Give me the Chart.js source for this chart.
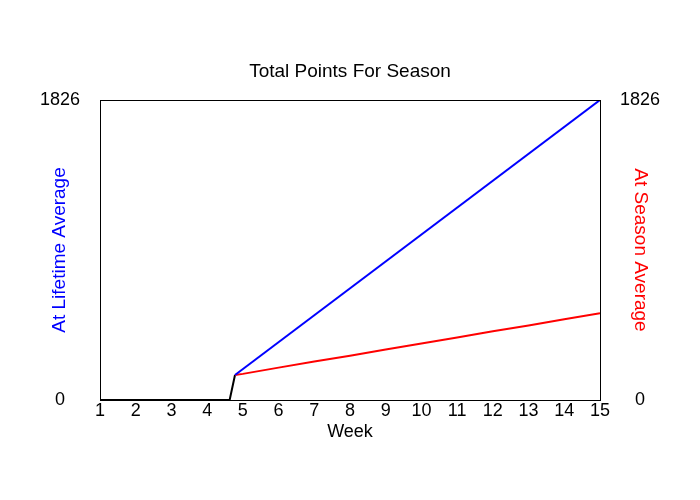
<!DOCTYPE html>
<html>

<head>
    <meta charset="utf-8">
    <title>Total Points For Season</title>
    <style>
        body {
            margin: 0;
            background-color: white;
        }
    </style>
</head>

<body>
    <canvas id="seasonChart" width="700" height="500"></canvas>

    <script src="https://cdn.jsdelivr.net/npm/chart.js"></script>

    <script>
        // values
        const weekTicks = [1, 2, 3, 4, 5, 6, 7, 8, 9, 10, 11, 12, 13, 14, 15];
        const yTicks = [0, 1826];

        const startWeeks = [1, 4.63, 4.78];
        const startPoints = [0, 0, 152];

        const lifetimeWeeks = [4.78, 15];
        const lifetimePoints = [152, 1826];

        const seasonWeeks = [4.78, 5, 6, 7, 8, 9, 10, 11, 12, 13, 14, 15];
        const seasonPoints = [152, 159, 197, 234, 270, 307, 344, 381, 418, 454, 491, 528];

        function toXY(xs, ys) {
            return xs.map((x, i) => ({ x: x, y: ys[i] }));
        }

        // frame round the plot and the two side titles
        const framePlugin = {
            id: 'frame',
            afterDraw(chart) {
                const { ctx, chartArea } = chart;
                ctx.save();
                ctx.strokeStyle = '#000';
                ctx.lineWidth = 1;
                ctx.strokeRect(chartArea.left + 0.5, chartArea.top + 0.5,
                    chartArea.right - chartArea.left, chartArea.bottom - chartArea.top);

                const midY = (chartArea.top + chartArea.bottom) / 2;
                ctx.font = '19px "Liberation Sans", Arial, sans-serif';
                ctx.textAlign = 'center';
                ctx.textBaseline = 'middle';

                ctx.fillStyle = '#0000ff';
                ctx.translate(60, midY);
                ctx.rotate(-Math.PI / 2);
                ctx.fillText('At Lifetime Average', 0, 0);
                ctx.restore();

                ctx.save();
                ctx.font = '19px "Liberation Sans", Arial, sans-serif';
                ctx.textAlign = 'center';
                ctx.textBaseline = 'middle';
                ctx.fillStyle = '#ff0000';
                ctx.translate(640, midY);
                ctx.rotate(Math.PI / 2);
                ctx.fillText('At Season Average', 0, 0);
                ctx.restore();
            }
        };

        const tickFont = { family: '"Liberation Sans", Arial, sans-serif', size: 18 };

        new Chart(document.getElementById('seasonChart'), {
            type: 'line',
            data: {
                datasets: [{
                    label: 'At Lifetime Average',
                    data: toXY(lifetimeWeeks, lifetimePoints),
                    borderColor: '#0000ff',
                    borderWidth: 2,
                    pointRadius: 0,
                    yAxisID: 'yLeft'
                },
                {
                    label: 'At Season Average',
                    data: toXY(seasonWeeks, seasonPoints),
                    borderColor: '#ff0000',
                    borderWidth: 2,
                    pointRadius: 0,
                    yAxisID: 'yRight'
                },
                {
                    label: 'Start',
                    data: toXY(startWeeks, startPoints),
                    borderColor: '#000000',
                    borderWidth: 2,
                    pointRadius: 0,
                    yAxisID: 'yLeft'
                }]
            },
            options: {
                responsive: false,
                animation: false,
                devicePixelRatio: 1,
                layout: { padding: { bottom: 56.8 } },
                plugins: {
                    legend: { display: false },
                    tooltip: { enabled: false },
                    title: {
                        display: true,
                        text: 'Total Points For Season',
                        color: '#000',
                        font: { family: '"Liberation Sans", Arial, sans-serif', size: 19, weight: 'normal' },
                        padding: { top: 60, bottom: 17.2 }
                    }
                },
                scales: {
                    x: {
                        type: 'linear',
                        min: 1,
                        max: 15,
                        afterBuildTicks: axis => { axis.ticks = weekTicks.map(v => ({ value: v })); },
                        grid: { display: false, drawTicks: false },
                        border: { display: false },
                        ticks: { color: '#000', font: tickFont, padding: 0, maxRotation: 0, autoSkip: false },
                        title: {
                            display: true,
                            text: 'Week',
                            color: '#000',
                            font: tickFont,
                            padding: { top: 0, bottom: 0 }
                        }
                    },
                    yLeft: {
                        position: 'left',
                        min: 0,
                        max: 1826,
                        afterBuildTicks: axis => { axis.ticks = yTicks.map(v => ({ value: v })); },
                        afterFit: axis => { axis.width = 100; },
                        grid: { display: false, drawTicks: false },
                        border: { display: false },
                        ticks: { color: '#000', font: tickFont, padding: 20, crossAlign: 'center', callback: v => String(v) }
                    },
                    yRight: {
                        position: 'right',
                        min: 0,
                        max: 1826,
                        afterBuildTicks: axis => { axis.ticks = yTicks.map(v => ({ value: v })); },
                        afterFit: axis => { axis.width = 100; },
                        grid: { display: false, drawTicks: false },
                        border: { display: false },
                        ticks: { color: '#000', font: tickFont, padding: 20, crossAlign: 'center', callback: v => String(v) }
                    }
                }
            },
            plugins: [framePlugin]
        });
    </script>
</body>

</html>
